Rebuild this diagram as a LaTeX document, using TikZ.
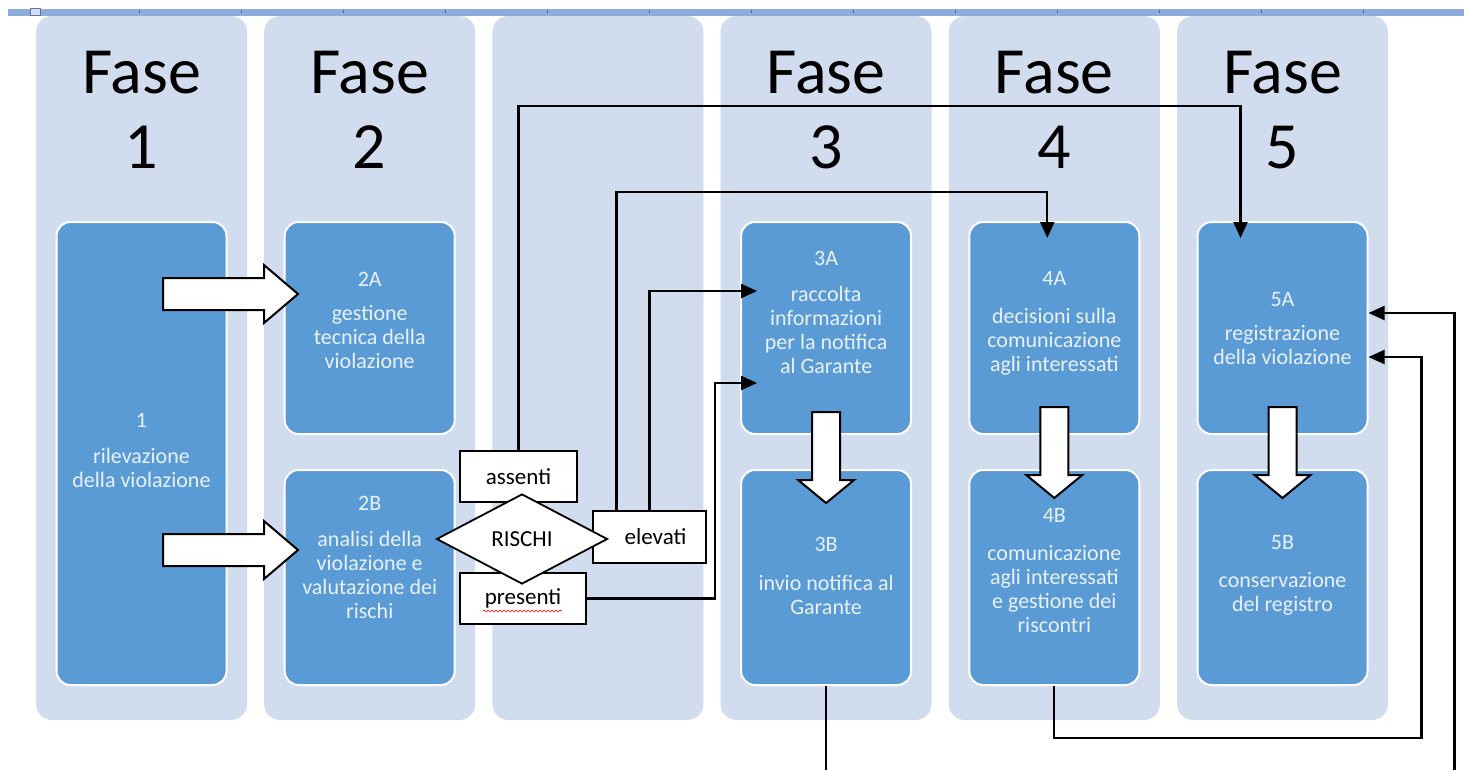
\documentclass[tikz,border=0pt]{standalone}
\usepackage{fontspec}
\setmainfont{Carlito}
\usetikzlibrary{arrows.meta,shapes.geometric,decorations.pathmorphing}

\definecolor{panelbg}{RGB}{209,220,238}
\definecolor{boxbg}{RGB}{91,155,213}
\definecolor{boxtxt}{RGB}{232,241,250}
\definecolor{rulerbar}{RGB}{142,172,219}

\tikzset{
  panel/.style={fill=panelbg, rounded corners=16pt, minimum width=211pt, minimum height=704pt, inner sep=0pt},
  hdr/.style={align=center, inner sep=0pt, font=\fontsize{66}{75}\selectfont},
  blk/.style={fill=boxbg, draw=white, line width=2pt, rounded corners=14pt, minimum width=170pt, inner sep=0pt},
  lbl/.style={align=center, inner sep=0pt, text=boxtxt, font=\fontsize{22}{24}\selectfont},
  choice/.style={draw, fill=white, line width=1.8pt, inner sep=0pt, font=\fontsize{23}{25}\selectfont},
  conn/.style={line width=2.2pt, -{Triangle[length=16pt,width=14pt]}},
  hollow/.style={draw, fill=white, line width=2pt, line join=miter},
  rarrow/.pic={\path[hollow] (0,-16) -- (101,-16) -- (101,-29) -- (135,0) -- (101,29) -- (101,16) -- (0,16) -- cycle;},
  darrow/.pic={\path[hollow] (-14,0) -- (14,0) -- (14,68) -- (28,68) -- (0,91) -- (-28,68) -- (-14,68) -- cycle;}
}

\begin{document}
\begin{tikzpicture}[x=1pt,y=-1pt]
  \useasboundingbox (0,0) rectangle (1464,769);
  \clip (0,0) rectangle (1464,769);

  % columns
  \foreach \i in {1,...,6}
    \node[panel] (p\i) at ({141.5+228.2*(\i-1)},368) {};
  \foreach \i/\n in {1/1,2/2,4/3,5/4,6/5}
    \node[hdr] (h\n) at ([yshift=-94]p\i.north) {Fase\\\n};

  % ruler
  \fill[rulerbar] (8,9) rectangle (1464,16);
  \foreach \x in {139,241,...,1364}
    \draw[rulerbar!60!black, line width=0.6pt] (\x,10) -- (\x,13);
  \draw[rulerbar!70!black, fill=rulerbar!40, line width=0.6pt] (30,8) rectangle (40,15);

  % steps
  \node[blk, minimum height=463] (b1) at (p1 |- 0,453.5) {};
  \node[blk, minimum height=212] (b2A) at (p2 |- 0,328) {};
  \node[blk, minimum height=215] (b2B) at (p2 |- 0,577.5) {};
  \node[blk, minimum height=212] (b3A) at (p4 |- 0,328) {};
  \node[blk, minimum height=215] (b3B) at (p4 |- 0,577.5) {};
  \node[blk, minimum height=212] (b4A) at (p5 |- 0,328) {};
  \node[blk, minimum height=215] (b4B) at (p5 |- 0,577.5) {};
  \node[blk, minimum height=212] (b5A) at (p6 |- 0,328) {};
  \node[blk, minimum height=215] (b5B) at (p6 |- 0,577.5) {};

  \node[lbl] (t1) at ([yshift=3]b1.center) {1\\[12pt]rilevazione\\della violazione};
  \node[lbl] (t2A) at ([yshift=8]b2A.center) {2A\\[10pt]gestione\\tecnica della\\violazione};
  \node[lbl] (t2B) at ([yshift=20]b2B.center) {2B\\[12pt]analisi della\\violazione e\\valutazione dei\\rischi};
  \node[lbl] (t3A) at ([yshift=16]b3A.center) {3A\\[12pt]raccolta\\informazioni\\per la notifica\\al Garante};
  \node[lbl] (t3B) at ([yshift=2]b3B.center) {3B\\[15pt]invio notifica al\\Garante};
  \node[lbl] (t4A) at ([yshift=5]b4A.center) {4A\\[14pt]decisioni sulla\\comunicazione\\agli interessati};
  \node[lbl] (t4B) at ([yshift=7]b4B.center) {4B\\[14pt]comunicazione\\agli interessati\\e gestione dei\\riscontri};
  \node[lbl] (t5A) at ([yshift=-1]b5A.center) {5A\\[10pt]registrazione\\della violazione};
  \node[lbl] (t5B) at ([yshift=2]b5B.center) {5B\\[14pt]conservazione\\del registro};

  % block arrows
  \pic at (163,294) {rarrow};
  \pic at (163,550) {rarrow};
  \pic at ([yshift=23]b3A.south) {darrow};
  \pic at ([yshift=28]b4A.south) {darrow};
  \pic at ([yshift=28]b5A.south) {darrow};

  % decision
  \node[choice, minimum width=117, minimum height=51] (assenti) at (518.5,476.5) {assenti};
  \node[choice, minimum width=113, minimum height=52] (elevati) at (649.5,537) {\hspace*{12pt}elevati};
  \node[choice, minimum width=126, minimum height=51] (presenti) at (523,598.5) {presenti};
  \node[choice, diamond, aspect=1.9, minimum width=171, minimum height=90] (rischi) at (522,539) {RISCHI};
  \draw[red, line width=0.6pt, decorate, decoration={snake, amplitude=1pt, segment length=4pt}]
    ([xshift=-40,yshift=-12.5]presenti.center) -- ++(79,0);

  % connectors
  \draw[conn] (assenti.north) -- ++(0,-344) -| ([xshift=-42,yshift=-17]b5A.north);
  \draw[conn] ([xshift=-33]elevati.north) -- ++(0,-318) -| ([xshift=-7,yshift=-17]b4A.north);
  \draw[conn] (elevati.north) |- ([xshift=17,yshift=37]b3A.west);
  \draw[conn] (presenti.east) -- ++(128,0) |- ([xshift=17,yshift=-55]b3A.west);
  \draw[conn] (b4B.south) -- ++(0,52) -| ([xshift=53,yshift=-29]b5A.east) -- ([yshift=-29]b5A.east);
  \draw[conn] (b3B.south) -- ++(0,110) -| ([xshift=86,yshift=15]b5A.east) -- ([yshift=15]b5A.east);
\end{tikzpicture}
\end{document}
